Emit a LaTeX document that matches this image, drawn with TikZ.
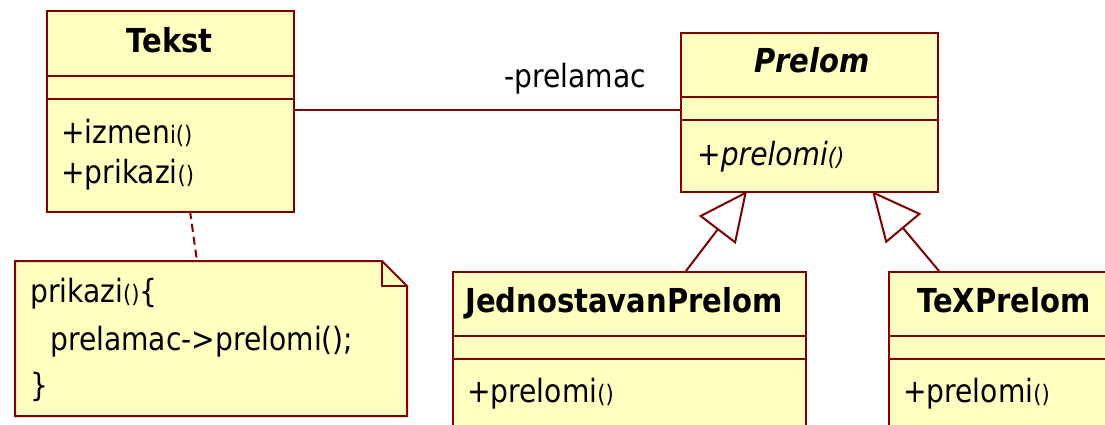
\documentclass[tikz,border=0pt]{standalone}
\usepackage{fontspec}
\setmainfont{DejaVu Sans}[FakeStretch=0.88]
\usetikzlibrary{arrows.meta}
\definecolor{umlfill}{RGB}{255,255,192}
\definecolor{umlline}{RGB}{128,0,0}
\newcommand{\sm}[1]{{\fontsize{24}{26}\selectfont #1}}
\tikzset{
  cls/.style={draw=umlline, fill=umlfill, line width=2pt, rectangle, inner sep=0pt, anchor=north west},
  sep/.style={draw=umlline, line width=2pt},
  txt/.style={inner sep=0pt, anchor=base west, font=\fontsize{32}{36}\selectfont},
  ttl/.style={inner sep=0pt, anchor=base, font=\fontsize{33}{36}\selectfont\bfseries},
  conn/.style={draw=umlline, line width=2pt},
  inh/.style={conn, -{Triangle[open, length=49pt, width=46pt, fill=white]}},
}
\begin{document}
\begin{tikzpicture}[x=1pt, y=-1pt]
\useasboundingbox (0,0) rectangle (1105,425);
\clip (0,0) rectangle (1105,425);
% Tekst
\node[cls, minimum width=247pt, minimum height=201pt] (tekst) at (46,10) {};
\draw[sep] (46,76) -- (293,76);
\draw[sep] (46,99) -- (293,99);
\node[ttl] (tekstT) at (169.5,53) {Tekst};
\node[txt] (tekstM1) at (61,143) {+izmen\sm{i()}};
\node[txt] (tekstM2) at (61,183) {+prikazi\sm{()}};
% Prelom
\node[cls, minimum width=257pt, minimum height=159pt] (prelom) at (680,32) {};
\draw[sep] (680,97) -- (937,97);
\draw[sep] (680,120) -- (937,120);
\node[ttl, font=\fontsize{33}{36}\selectfont\bfseries\itshape] (prelomT) at (812,73) {Prelom};
\node[txt, font=\fontsize{32}{36}\selectfont\itshape] (prelomM) at (697,165) {+prelomi\sm{()}};
% JednostavanPrelom
\node[cls, minimum width=353pt, minimum height=200pt] (jedn) at (452,271) {};
\draw[sep] (452,336) -- (805,336);
\draw[sep] (452,359) -- (805,359);
\node[txt, font=\fontsize{33}{36}\selectfont\bfseries] (jednT) at (465,312) {JednostavanPrelom};
\node[txt] (jednM) at (467,402) {+prelomi\sm{()}};
% TeXPrelom
\node[cls, minimum width=260pt, minimum height=200pt] (tex) at (888,271) {};
\draw[sep] (888,336) -- (1148,336);
\draw[sep] (888,359) -- (1148,359);
\node[txt, font=\fontsize{33}{36}\selectfont\bfseries] (texT) at (917,312) {TeXPrelom};
\node[txt] (texM) at (903,402) {+prelomi\sm{()}};
% Note
\coordinate (n1) at (15,261);
\coordinate (n2) at (382,261);
\coordinate (n3) at (407,286);
\coordinate (n4) at (407,416);
\coordinate (n5) at (15,416);
\draw[draw=umlline, fill=umlfill, line width=2pt] (n1) -- (n2) -- (n3) -- (n4) -- (n5) -- cycle;
\draw[sep] (n2) -- (382,286) -- (n3);
\node[txt] (noteL1) at (30,302) {prikazi\sm{()}\{};
\node[txt] (noteL2) at (50,350) {prelamac->prelomi();};
\node[txt] (noteL3) at (30,396) {\}};
% connectors
\coordinate (noteTop) at (197,261);
\coordinate (tekstBot) at (190,211);
\draw[conn, dashed, dash pattern=on 8pt off 5pt] (tekstBot) -- (noteTop);
\coordinate (assocL) at (293,110);
\coordinate (assocR) at (680,110);
\draw[conn] (assocL) -- (assocR);
\node[txt] (roleLbl) at (504,88) {-prelamac};
\coordinate (j1) at (686,271);
\coordinate (pa1) at (747,191);
\draw[inh] (j1) -- (pa1);
\coordinate (t1) at (939,271);
\coordinate (pa2) at (872,191);
\draw[inh] (t1) -- (pa2);
\end{tikzpicture}
\end{document}
